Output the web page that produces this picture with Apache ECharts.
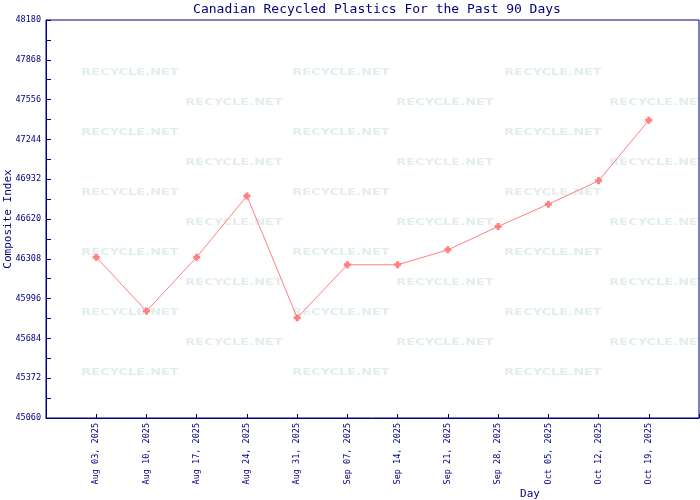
<!DOCTYPE html>
<html>
<head>
<meta charset="utf-8">
<script src="https://cdn.jsdelivr.net/npm/echarts@6/dist/echarts.min.js"></script>
<style>html,body{margin:0;padding:0;background:#fff}#c{width:700px;height:500px}</style>
</head>
<body>
<div id="c"></div>
<script>
const dates = ["Aug 03, 2025","Aug 10, 2025","Aug 17, 2025","Aug 24, 2025","Aug 31, 2025","Sep 07, 2025","Sep 14, 2025","Sep 21, 2025","Sep 28, 2025","Oct 05, 2025","Oct 12, 2025","Oct 19, 2025"];
const values = [46321, 45898, 46321, 46801, 45846, 46261, 46261, 46378, 46561, 46736, 46919, 47394];
const yTickLabels = [45060, 45372, 45684, 45996, 46308, 46620, 46932, 47244, 47556, 47868, 48180];

const NAVY = '#000080';
const mono = '"DejaVu Sans Mono", monospace';
const yTicks = [];
for (let i = 0; i < yTickLabels.length; i++) {
  yTicks.push(yTickLabels[i]);
  if (i < yTickLabels.length - 1) yTicks.push((yTickLabels[i] + yTickLabels[i + 1]) / 2);
}

const wm = [];
const rowsY = [73, 103, 133, 163, 193, 223, 253, 283, 313, 343, 373];
rowsY.forEach((y, r) => {
  const xs = r % 2 === 0 ? [130, 341, 553] : [234, 445, 658];
  xs.forEach(x => wm.push({
    type: 'text', x: x, y: y, z: -10, silent: true, scaleX: 1.62,
    style: { text: 'RECYCLE.NET', fill: '#e3eded', font: 'bold 8px "DejaVu Sans"', align: 'center', verticalAlign: 'middle' }
  }));
});
wm.push({ type: 'text', x: 530, y: 494, style: { text: 'Day', fill: NAVY, font: '11px ' + mono, align: 'center', verticalAlign: 'middle' } });

const chart = echarts.init(document.getElementById('c'), null, { renderer: 'canvas' });
chart.setOption({
  animation: false,
  backgroundColor: '#fff',
  title: {
    text: 'Canadian Recycled Plastics For the Past 90 Days',
    left: 372, top: -2, textAlign: 'center',
    textStyle: { color: NAVY, fontFamily: mono, fontSize: 13, fontWeight: 'normal' }
  },
  graphic: wm,
  grid: { left: 46, right: 1, top: 20, bottom: 82, containLabel: false, outerBoundsMode: 'none', show: true, borderColor: NAVY, borderWidth: 1, backgroundColor: 'transparent' },
  xAxis: {
    type: 'value', min: -1, max: 12, interval: 1,
    axisLine: { show: true, onZero: false, lineStyle: { color: NAVY, width: 1 } },
    axisTick: { show: true, inside: true, length: 4, lineStyle: { color: NAVY } },
    splitLine: { show: false },
    axisLabel: {
      rotate: 90, margin: 5, color: NAVY, fontFamily: mono, fontSize: 8.5,
      formatter: v => dates[v] || ''
    }
  },
  yAxis: {
    type: 'value', min: yTickLabels[0], max: yTickLabels[yTickLabels.length - 1],
    name: 'Composite Index', nameLocation: 'middle', nameGap: 32, nameMoveOverlap: false,
    nameTextStyle: { color: NAVY, fontFamily: mono, fontSize: 11 },
    axisLine: { show: true, onZero: false, lineStyle: { color: NAVY, width: 1 } },
    axisTick: { show: true, inside: true, length: 5, customValues: yTicks, lineStyle: { color: NAVY } },
    splitLine: { show: false },
    axisLabel: { color: NAVY, fontFamily: mono, fontSize: 8.5, margin: 5, customValues: yTickLabels, formatter: v => String(v) }
  },
  series: [{
    type: 'line',
    data: values.map((v, i) => [i, v]),
    lineStyle: { color: '#ff7f7f', width: 1 },
    itemStyle: { color: '#ff7f7f' },
    symbol: 'path://M2,0 L5,0 L5,2 L7,2 L7,5 L5,5 L5,7 L2,7 L2,5 L0,5 L0,2 L2,2 Z',
    symbolSize: 7,
    z: 5
  }]
});
</script>
</body>
</html>
